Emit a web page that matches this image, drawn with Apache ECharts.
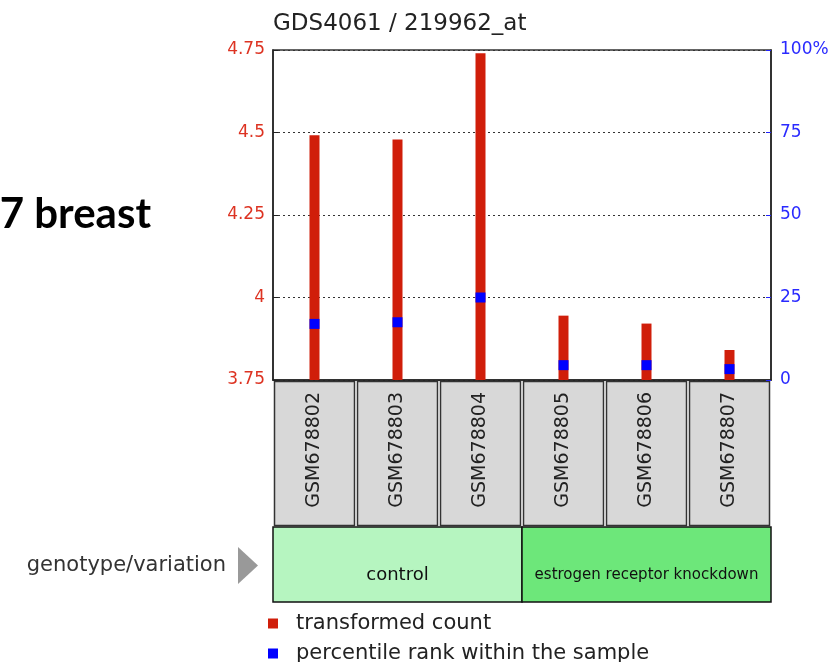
<!DOCTYPE html>
<html><head><meta charset="utf-8">
<script src="https://cdn.jsdelivr.net/npm/echarts@6/dist/echarts.min.js"></script>
<style>html,body{margin:0;padding:0;background:#fff}#c{width:833px;height:662px}</style>
</head><body><div id="c"></div>
<script>
// ---- data ----
const samples = ['GSM678802', 'GSM678803', 'GSM678804', 'GSM678805', 'GSM678806', 'GSM678807'];
const transformedCount = [4.492, 4.479, 4.74, 3.945, 3.921, 3.841];
const percentileRank = [17, 17.5, 25, 4.5, 4.5, 3.3];
const leftAxisRange = [3.75, 4.75];
const leftAxisStep = 0.25;
const rightAxisRange = [0, 100];
const rightAxisStep = 25;
const groupNames = ['control', 'estrogen receptor knockdown'];
const groupSizes = [3, 3];
const titleText = 'GDS4061 / 219962_at';
const sideText = '7 breast';
const groupLabel = 'genotype/variation';
const seriesNames = ['transformed count', 'percentile rank within the sample'];

// ---- layout / style ----
const G = { left: 273, top: 50, width: 498, height: 330 };
const FONT = 'DejaVu Sans';
const groupColors = ['#b6f5c0', '#6de77a'];

const legendStyle = (name, top) => ({
  orient: 'vertical', left: 268, top: top, itemWidth: 10, itemHeight: 10, padding: 0,
  icon: 'rect', selectedMode: false, data: [name],
  textStyle: { fontFamily: FONT, fontSize: 21, color: '#222', padding: [0, 0, 0, 13] }
});

const chart = echarts.init(document.getElementById('c'));
chart.setOption({
  animation: false,
  title: {
    text: titleText, left: 268, top: 8,
    textStyle: { fontFamily: FONT, fontSize: 23, fontWeight: 'normal', color: '#222' }
  },
  legend: [legendStyle(seriesNames[0], 613), legendStyle(seriesNames[1], 643)],
  grid: { left: G.left, top: G.top, width: G.width, height: G.height, show: true,
          borderColor: '#333', borderWidth: 1.5, backgroundColor: '#fff' },
  xAxis: {
    type: 'category', data: samples,
    axisLine: { lineStyle: { color: '#222', width: 1.5 } },
    axisTick: { inside: true, alignWithLabel: true, length: 4, lineStyle: { color: '#222' } },
    axisLabel: { rotate: 90, interval: 0, margin: 12, fontFamily: FONT, fontSize: 19, color: '#222' }
  },
  yAxis: [{
    type: 'value', min: leftAxisRange[0], max: leftAxisRange[1], interval: leftAxisStep,
    axisLine: { show: true, lineStyle: { color: '#222', width: 1.5 } },
    axisTick: { show: true, inside: true, length: 5, lineStyle: { color: '#222' } },
    axisLabel: { color: '#dd3322', fontFamily: FONT, fontSize: 17, margin: 8 },
    splitLine: { show: true, lineStyle: { color: '#333', type: [2, 3], width: 1 } }
  }, {
    type: 'value', position: 'right', min: rightAxisRange[0], max: rightAxisRange[1], interval: rightAxisStep,
    axisLine: { show: true, lineStyle: { color: '#222', width: 1.5 } },
    axisTick: { show: true, inside: true, length: 5, lineStyle: { color: '#2222ff' } },
    axisLabel: { color: '#2a2aff', fontFamily: FONT, fontSize: 17, margin: 9,
                 formatter: v => (v === rightAxisRange[1] ? v + '%' : String(v)) },
    splitLine: { show: false }
  }],
  series: [{
    name: seriesNames[0], type: 'bar', data: transformedCount, barWidth: 10,
    itemStyle: { color: '#d01e0a' }, z: 2
  }, {
    name: seriesNames[1], type: 'scatter', yAxisIndex: 1, data: percentileRank,
    symbol: 'rect', symbolSize: [10, 10], itemStyle: { color: '#0000ff', opacity: 1 }, z: 3
  }]
});

// decorations positioned from the category axis
const band = G.width / samples.length;
const graphics = [];
samples.forEach((s, i) => {
  const cx = chart.convertToPixel({ xAxisIndex: 0 }, i);
  graphics.push({
    type: 'rect', z: -10,
    shape: { x: cx - band / 2 + 1.5, y: G.top + G.height + 1.5, width: band - 3, height: 144 },
    style: { fill: '#d8d8d8', stroke: '#333', lineWidth: 1.5 }
  });
});
let start = 0;
groupNames.forEach((g, k) => {
  const x0 = chart.convertToPixel({ xAxisIndex: 0 }, start) - band / 2;
  const x1 = chart.convertToPixel({ xAxisIndex: 0 }, start + groupSizes[k] - 1) + band / 2;
  graphics.push({
    type: 'rect', z: -10,
    shape: { x: x0, y: 527, width: x1 - x0, height: 75 },
    style: { fill: groupColors[k], stroke: '#111', lineWidth: 1.5 }
  });
  graphics.push({
    type: 'text', z: 10,
    style: { x: (x0 + x1) / 2, y: 575, text: g, textAlign: 'center', textVerticalAlign: 'middle',
             font: (k === 0 ? '18px ' : '15px ') + FONT, fill: '#111' }
  });
  start += groupSizes[k];
});
graphics.push({
  type: 'text', style: { x: 226, y: 566, text: groupLabel, textAlign: 'right', textVerticalAlign: 'middle',
                         font: '21px ' + FONT, fill: '#333' }
});
graphics.push({
  type: 'polygon', shape: { points: [[238, 547], [258, 565.5], [238, 584]] }, style: { fill: '#999' }
});
graphics.push({
  type: 'text', style: { x: 151, y: 214, text: sideText, textAlign: 'right', textVerticalAlign: 'middle',
                         font: 'bold 42px Lato', fill: '#000' }
});
chart.setOption({ graphic: graphics });
</script>
</body></html>
